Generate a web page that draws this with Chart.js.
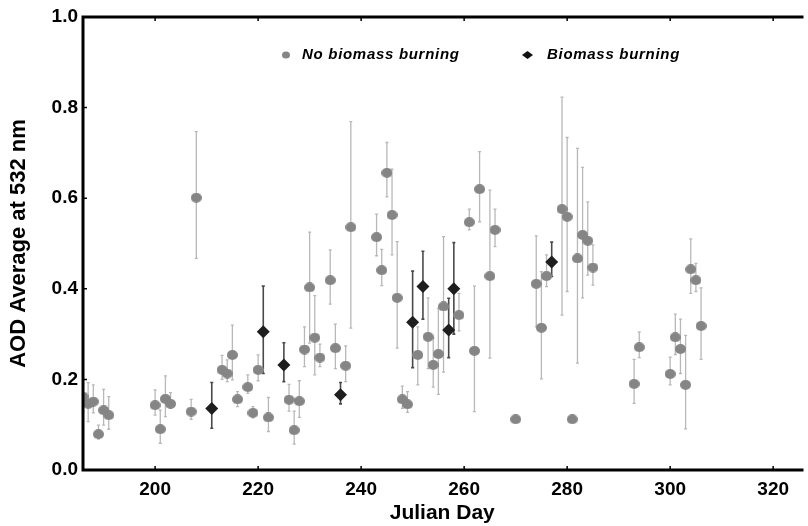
<!DOCTYPE html>
<html>
<head>
<meta charset="utf-8">
<script src="https://cdn.jsdelivr.net/npm/chart.js@4.4.1/dist/chart.umd.min.js"></script>
<style>
  html, body { margin: 0; padding: 0; background: #fff; }
  #wrap { width: 808px; height: 526px; }
</style>
</head>
<body>
<div id="wrap"><canvas id="chart"></canvas></div>
<script>
// axis ticks
const xTicks = [200, 220, 240, 260, 280, 300, 320];
const yTicks = [0, 0.2, 0.4, 0.6, 0.8, 1.0];

// No biomass burning: day, mean AOD, error bar bottom / top (null = no bar)
const noBurnDays = [186, 187, 188, 189, 190, 191, 200, 201, 202, 203, 207, 208,
  213, 214, 215, 216, 218, 219, 220, 222, 226, 227, 228, 229, 230, 231, 232, 234,
  235, 237, 238, 243, 244, 245, 246, 247, 248, 249, 251, 253, 254, 255, 256, 259,
  261, 262, 263, 265, 266, 270, 274, 275, 276, 279, 280, 281, 282, 283, 284, 285,
  293, 294, 300, 301, 302, 303, 304, 305, 306];
const noBurnAod = [0.162, 0.146, 0.151, 0.079, 0.132, 0.121, 0.143, 0.090, 0.157, 0.146, 0.129, 0.601,
  0.221, 0.213, 0.254, 0.156, 0.183, 0.126, 0.221, 0.116, 0.155, 0.088, 0.152, 0.266, 0.403, 0.292, 0.248, 0.419,
  0.269, 0.230, 0.536, 0.514, 0.441, 0.656, 0.563, 0.380, 0.156, 0.145, 0.254, 0.294, 0.232, 0.256, 0.361, 0.342,
  0.547, 0.263, 0.620, 0.428, 0.530, 0.112, 0.411, 0.314, 0.428, 0.576, 0.559, 0.112, 0.467, 0.519, 0.506, 0.447,
  0.190, 0.271, 0.212, 0.293, 0.267, 0.188, 0.443, 0.419, 0.318];
const noBurnLow = [0.130, 0.107, 0.126, 0.068, 0.099, 0.090, 0.121, 0.059, 0.118, 0.136, 0.112, 0.467,
  0.200, 0.195, 0.199, 0.140, 0.169, 0.115, 0.197, 0.085, 0.130, 0.057, 0.116, 0.228, 0.280, 0.210, 0.228, 0.366,
  0.224, 0.195, 0.313, 0.473, 0.407, 0.603, 0.475, 0.269, 0.136, 0.127, 0.188, 0.224, 0.183, 0.167, 0.216, 0.307,
  0.530, 0.129, 0.548, 0.247, 0.493, null, 0.316, 0.201, 0.405, 0.342, 0.394, null, 0.236, 0.380, 0.430, 0.408,
  0.147, 0.248, 0.188, 0.255, 0.213, 0.091, 0.390, 0.394, 0.244];
const noBurnHigh = [0.190, 0.193, 0.188, 0.099, 0.178, 0.162, 0.177, 0.132, 0.208, 0.171, 0.156, 0.747,
  0.253, 0.243, 0.320, 0.173, 0.210, 0.140, 0.254, 0.160, 0.189, 0.130, 0.197, 0.316, 0.525, 0.385, 0.278, 0.486,
  0.322, 0.274, 0.769, 0.565, 0.487, 0.723, 0.664, 0.504, 0.185, 0.173, 0.316, 0.380, 0.291, 0.357, 0.515, 0.390,
  0.576, 0.406, 0.703, 0.618, 0.576, null, 0.517, 0.438, 0.475, 0.823, 0.734, null, 0.710, 0.668, 0.592, 0.497,
  0.244, 0.305, 0.249, 0.344, 0.333, 0.297, 0.510, 0.456, 0.402];

// Biomass burning
const burnDays = [211, 221, 225, 236, 250, 252, 257, 258, 277];
const burnAod = [0.136, 0.305, 0.232, 0.166, 0.326, 0.405, 0.309, 0.400, 0.459];
const burnLow = [0.092, 0.213, 0.195, 0.146, 0.226, 0.333, 0.248, 0.300, 0.427];
const burnHigh = [0.193, 0.406, 0.281, 0.193, 0.439, 0.483, 0.379, 0.502, 0.503];

const fontFamily = '"Liberation Sans", Arial, sans-serif';
Chart.defaults.font.family = fontFamily;
Chart.defaults.color = '#000';

// slightly wide grey dot, like the original
function makeDot(w, h, color) {
    const c = document.createElement('canvas');
    c.width = w; c.height = h;
    const g = c.getContext('2d');
    g.fillStyle = color;
    g.beginPath();
    g.ellipse(w / 2, h / 2, w / 2, h / 2, 0, 0, Math.PI * 2);
    g.fill();
    return c;
}
const greyDot = makeDot(11, 10, '#858585');

const errorBars = {
    id: 'errorBars',
    beforeDatasetsDraw(chart) {
        const { ctx, scales: { x, y }, chartArea } = chart;
        const series = [
            { days: noBurnDays, low: noBurnLow, high: noBurnHigh, color: '#b8b8b8', width: 1.3 },
            { days: burnDays, low: burnLow, high: burnHigh, color: '#4a4a4a', width: 1.6 }
        ];
        ctx.save();
        ctx.beginPath();
        ctx.rect(chartArea.left, chartArea.top, chartArea.right - chartArea.left, chartArea.bottom - chartArea.top);
        ctx.clip();
        series.forEach(s => {
            ctx.strokeStyle = s.color;
            ctx.lineWidth = s.width;
            s.days.forEach((d, i) => {
                if (s.low[i] == null) return;
                const px = x.getPixelForValue(d);
                const top = y.getPixelForValue(s.high[i]);
                const bot = y.getPixelForValue(s.low[i]);
                ctx.beginPath();
                ctx.moveTo(px, top); ctx.lineTo(px, bot);
                ctx.moveTo(px - 1.5, top); ctx.lineTo(px + 1.5, top);
                ctx.moveTo(px - 1.5, bot); ctx.lineTo(px + 1.5, bot);
                ctx.stroke();
            });
        });
        ctx.restore();
    }
};

// thick frame on left/top/bottom, small inward ticks, and the in-plot legend
const frameAndLegend = {
    id: 'frameAndLegend',
    afterDraw(chart) {
        const { ctx, chartArea: a, scales: { x, y } } = chart;
        ctx.save();
        ctx.strokeStyle = '#000';
        ctx.lineWidth = 3;
        ctx.beginPath();
        ctx.moveTo(a.right + 2, a.top);
        ctx.lineTo(a.left, a.top);
        ctx.lineTo(a.left, a.bottom);
        ctx.lineTo(a.right + 2, a.bottom);
        ctx.stroke();

        ctx.lineWidth = 1.5;
        ctx.beginPath();
        xTicks.forEach(v => {
            const px = x.getPixelForValue(v);
            ctx.moveTo(px, a.bottom); ctx.lineTo(px, a.bottom - 4);
            ctx.moveTo(px, a.top); ctx.lineTo(px, a.top + 4);
        });
        yTicks.forEach(v => {
            const py = y.getPixelForValue(v);
            ctx.moveTo(a.left, py); ctx.lineTo(a.left + 4, py);
        });
        ctx.stroke();

        // legend
        ctx.fillStyle = '#858585';
        ctx.beginPath();
        ctx.ellipse(286, 55, 4, 3.5, 0, 0, Math.PI * 2);
        ctx.fill();
        ctx.fillStyle = '#111';
        ctx.beginPath();
        ctx.moveTo(522, 55); ctx.lineTo(527.5, 51); ctx.lineTo(533, 55); ctx.lineTo(527.5, 59);
        ctx.closePath();
        ctx.fill();

        ctx.fillStyle = '#000';
        ctx.font = 'bold italic 15px ' + fontFamily;
        ctx.letterSpacing = '0.7px';
        ctx.textBaseline = 'middle';
        ctx.textAlign = 'left';
        ctx.fillText('No biomass burning', 302, 55);
        ctx.fillText('Biomass burning', 547, 55);
        ctx.restore();
    }
};

const ctx = document.getElementById('chart');
new Chart(ctx, {
    type: 'scatter',
    data: {
        datasets: [
            {
                label: 'Biomass burning',
                data: burnDays.map((d, i) => ({ x: d, y: burnAod[i] })),
                pointStyle: 'rectRot',
                pointRadius: 6.5,
                backgroundColor: '#1e1e1e',
                borderColor: '#1e1e1e',
                borderWidth: 0
            },
            {
                label: 'No biomass burning',
                data: noBurnDays.map((d, i) => ({ x: d, y: noBurnAod[i] })),
                pointStyle: greyDot,
                pointRadius: 5,
                backgroundColor: '#858585',
                borderWidth: 0
            }
        ]
    },
    options: {
        responsive: true,
        maintainAspectRatio: false,
        animation: false,
        events: [],
        layout: { padding: { top: 17, right: 0, left: 0, bottom: 0 } },
        plugins: {
            legend: { display: false },
            tooltip: { enabled: false }
        },
        scales: {
            x: {
                type: 'linear',
                min: 186,
                max: 325.5,
                grid: { display: false, drawTicks: false },
                border: { display: false },
                afterBuildTicks: scale => { scale.ticks = xTicks.map(v => ({ value: v })); },
                afterFit: scale => { scale.height = 56; },
                ticks: {
                    padding: 8,
                    maxRotation: 0,
                    font: { size: 19, weight: 'bold' },
                    callback: v => String(v)
                },
                title: {
                    display: true,
                    text: 'Julian Day',
                    font: { size: 21, weight: 'bold' },
                    padding: { top: 0, bottom: 0 }
                }
            },
            y: {
                min: 0,
                max: 1.0,
                grid: { display: false, drawTicks: false },
                border: { display: false },
                afterBuildTicks: scale => { scale.ticks = yTicks.map(v => ({ value: v })); },
                afterFit: scale => { scale.width = 83; },
                ticks: {
                    padding: 5,
                    font: { size: 19, weight: 'bold' },
                    callback: v => Number(v).toFixed(1)
                },
                title: {
                    display: true,
                    text: 'AOD Average at 532 nm',
                    font: { size: 22, weight: 'bold' },
                    padding: { top: 6, bottom: 0 }
                }
            }
        }
    },
    plugins: [errorBars, frameAndLegend]
});
</script>
</body>
</html>
